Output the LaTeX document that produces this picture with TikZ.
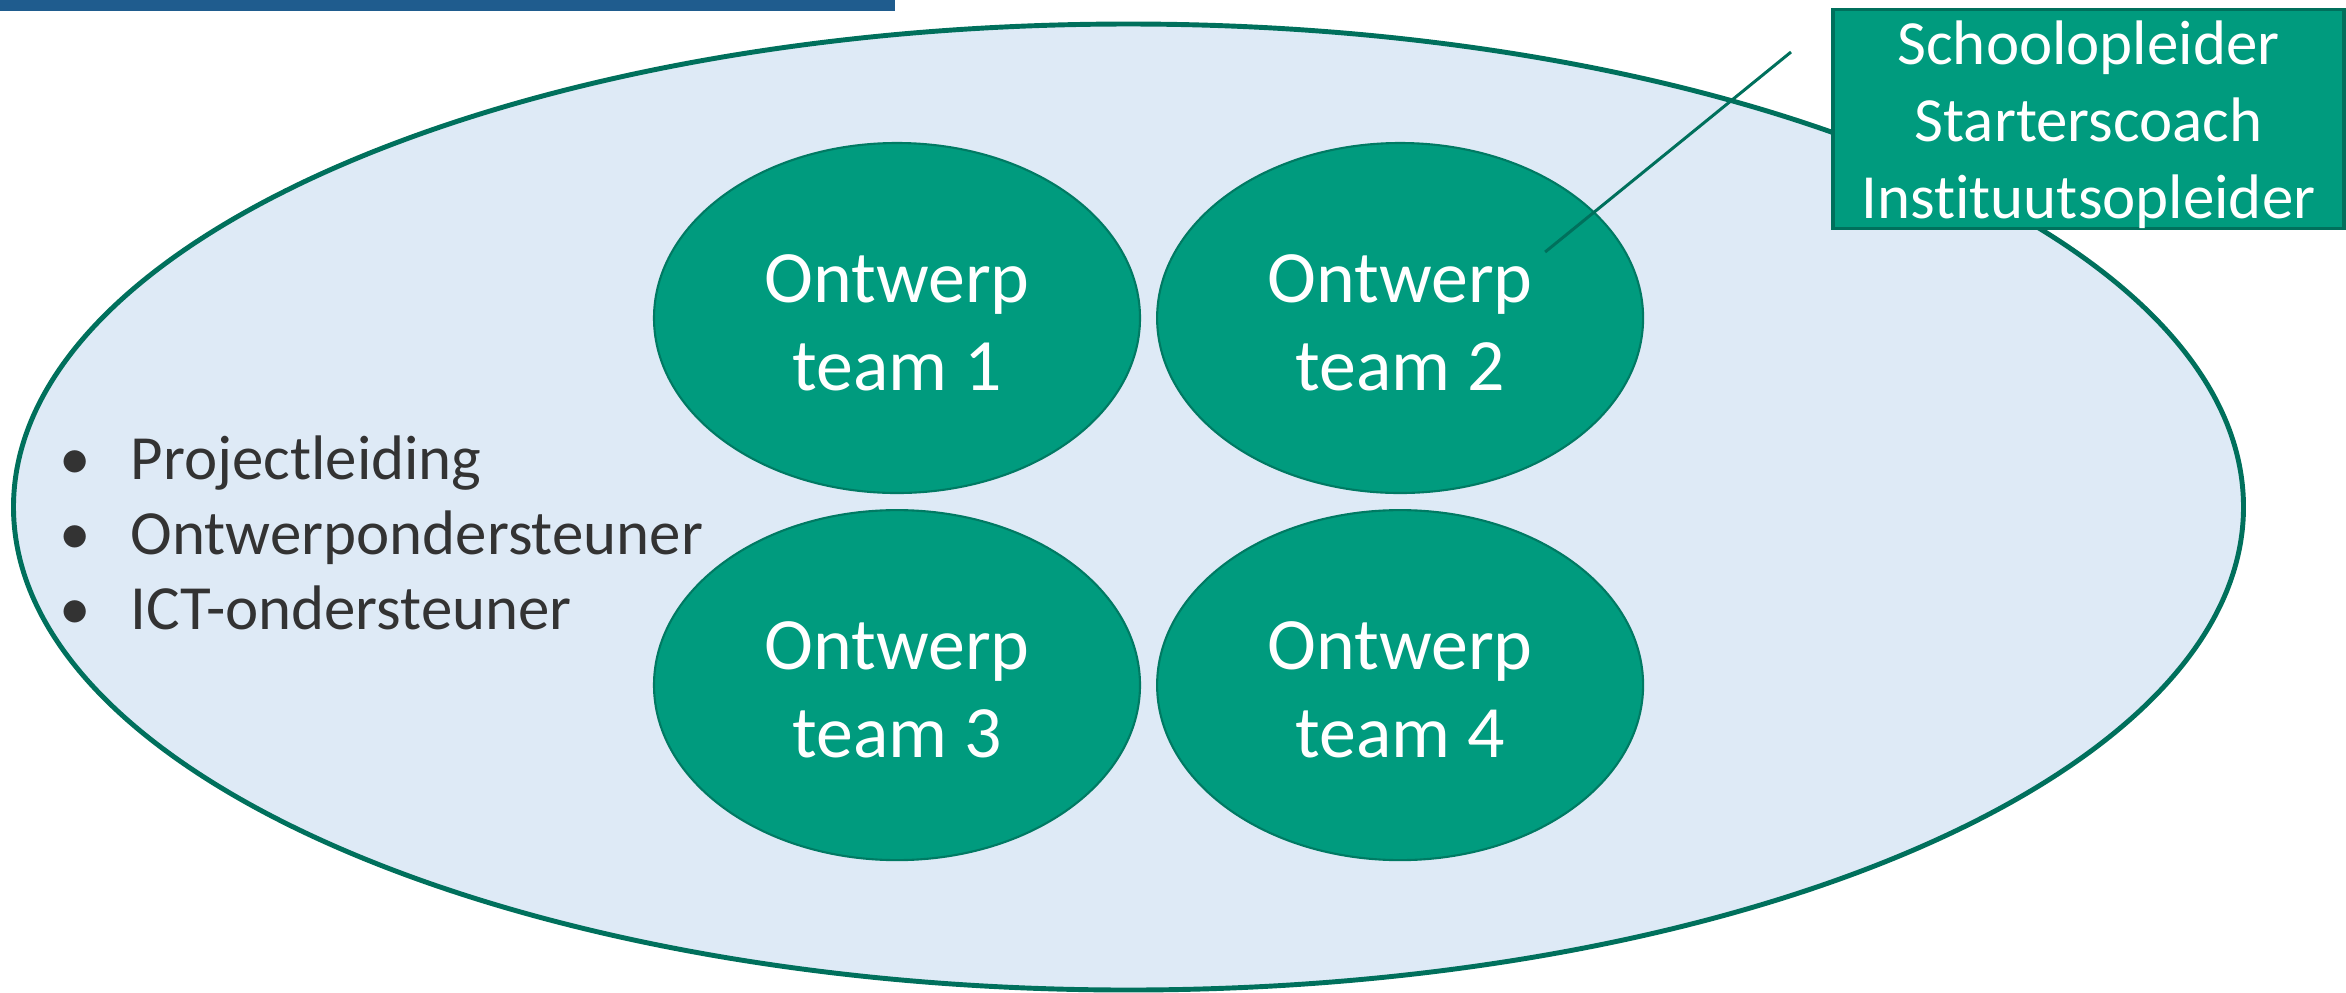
\documentclass[tikz,border=0pt]{standalone}
\usepackage{fontspec}
\setmainfont{Carlito}[Ligatures=CommonOff]
\usetikzlibrary{shapes.geometric,positioning,calc}
\definecolor{barblue}{HTML}{1F5C8E}
\definecolor{halofill}{HTML}{DEEAF6}
\definecolor{haloline}{HTML}{00705C}
\definecolor{teamfill}{HTML}{009B7E}
\definecolor{teamline}{HTML}{007A63}
\definecolor{roletext}{HTML}{333333}
\tikzstyle{team}=[ellipse,draw=teamline,line width=0.6pt,fill=teamfill,text=white,minimum width=4.86cm,minimum height=3.50cm,align=center,font=\fontsize{21pt}{25pt}\selectfont,inner sep=0pt]
\tikzstyle{role}=[anchor=base west,text=roletext,font=\fontsize{17.9pt}{21.6pt}\selectfont,inner sep=0pt]
\tikzstyle{tutors}=[rectangle,draw=haloline,line width=1.1pt,fill=teamfill,text=white,minimum width=5.11cm,minimum height=2.18cm,align=center,font=\fontsize{17.9pt}{21.9pt}\selectfont,inner sep=0pt]
\newcommand{\teamtext}[1]{\rule{0pt}{0.57cm}Ontwerp\\team #1}

\begin{document}
\begin{tikzpicture}
\useasboundingbox (0,0) rectangle (23.46,-9.92);
\fill[barblue] (0,0) rectangle (8.95,-0.11); % title bar
\draw[haloline,line width=1.4pt,fill=halofill] (11.285,-5.07) ellipse (11.15cm and 4.83cm);
\node[team] (t1) at (8.97,-3.18) {\teamtext{1}};
\node[team,right=0.15cm of t1] (t2) {\teamtext{2}};
\node[team,below=0.15cm of t1] (t3) {\teamtext{3}};
\node[team,below=0.15cm of t2] (t4) {\teamtext{4}};
\foreach \txt [count=\i] in {Projectleiding,Ontwerpondersteuner,ICT-ondersteuner}
  \node[role] (role\i) at (1.30,{-4.04-0.75*\i}) {\llap{\textbullet\hspace{0.40cm}}\txt};
\node[tutors] (tutors) at (20.885,-1.19) {\rule{0pt}{0.55cm}Schoolopleider\\Starterscoach\\Instituutsopleider};
\coordinate (tip) at (17.91,-0.52); % free end of the callout
\draw[haloline,line width=0.85pt] ($(t2.center)+(1.45,0.66)$) -- (tip);
\end{tikzpicture}
\end{document}
